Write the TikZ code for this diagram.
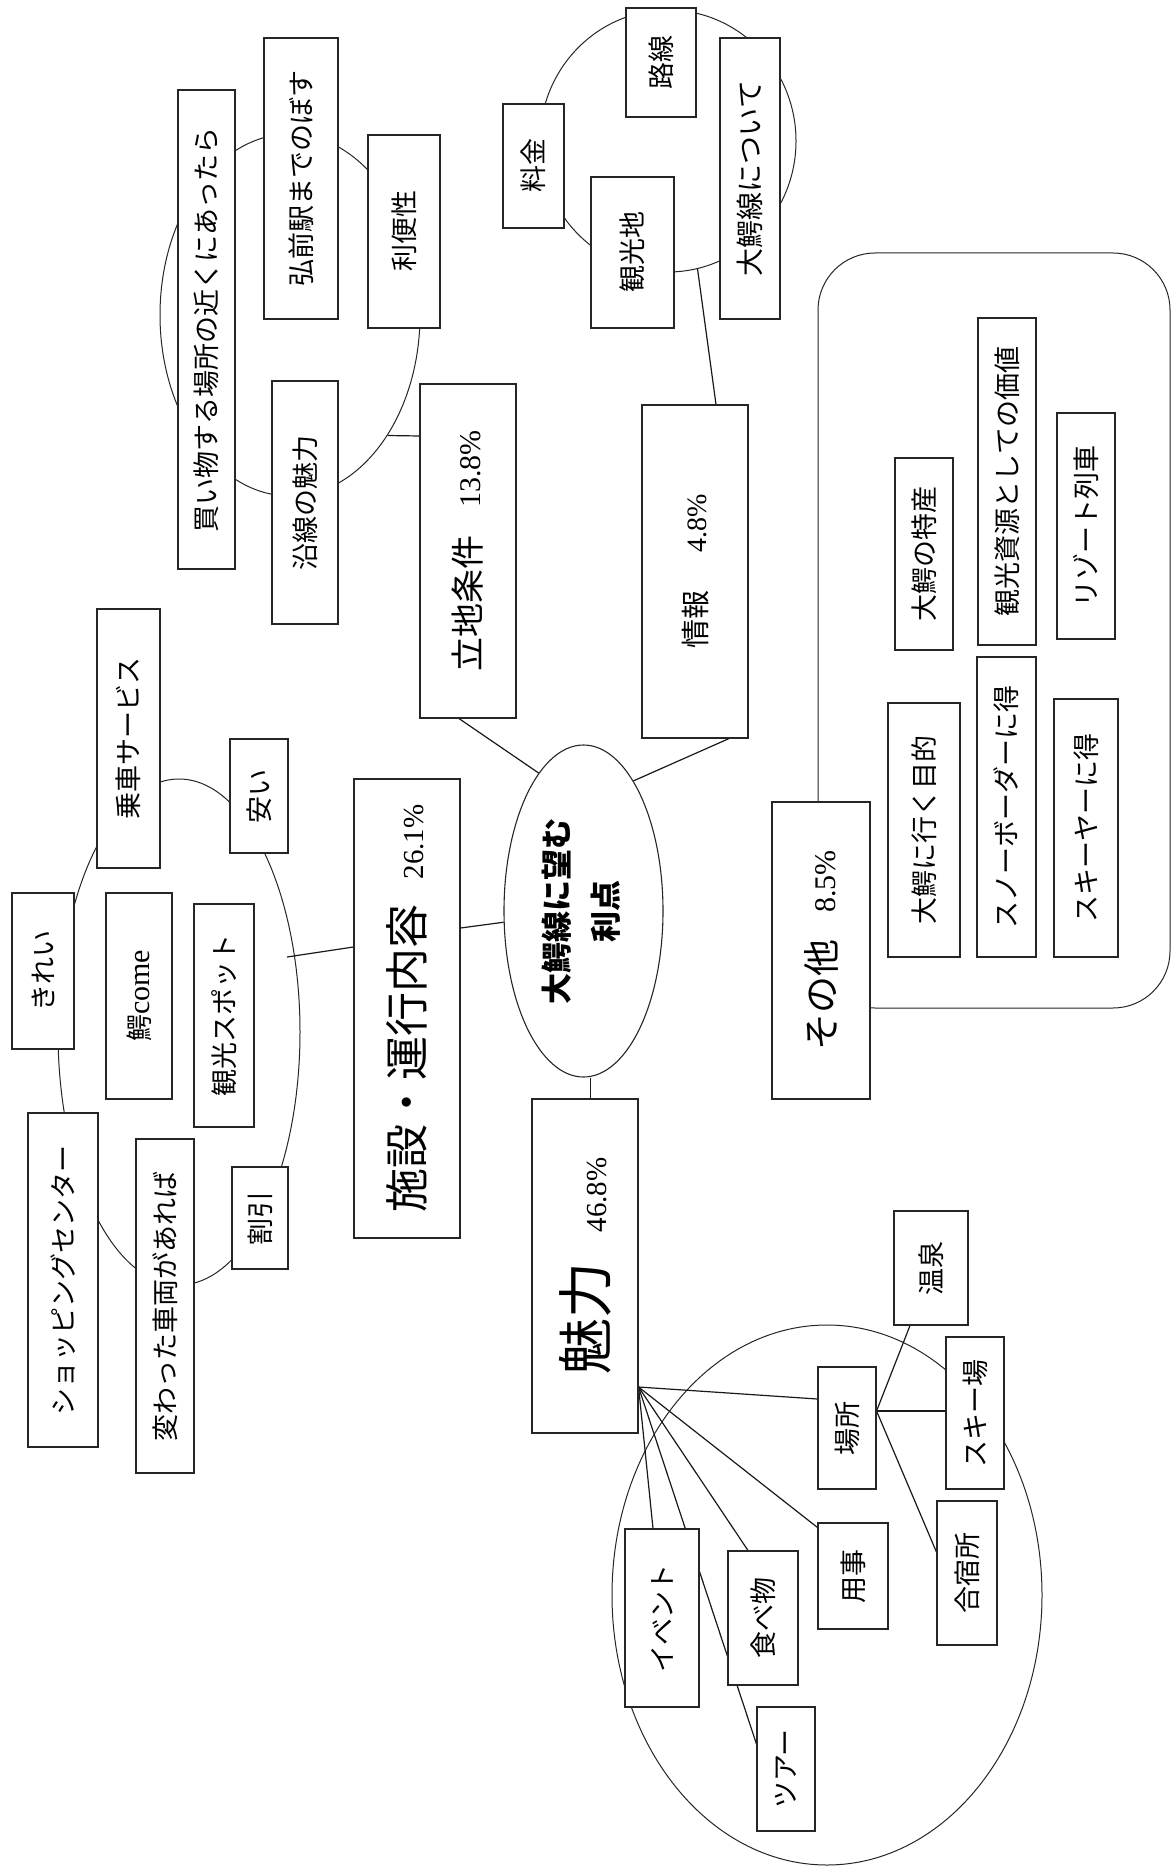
\documentclass[tikz,border=0pt]{standalone}
\usepackage{fontspec}
\usepackage{graphicx}
\setmainfont{Noto Sans CJK JP}
\newfontfamily\lat{Liberation Serif}
\usetikzlibrary{shapes.geometric}
\pgfdeclarelayer{bg}
\pgfdeclarelayer{paper}
\pgfsetlayers{paper,bg,main}
\newcommand\vt[1]{\rotatebox{90}{#1}}
\newcommand\fs[1]{\fontsize{#1}{#1}\selectfont}
\newcommand\mkbox[6]{\node[box, minimum width={(#4-#2)*1pt}, minimum height={(#5-#3)*1pt}] (#1) at ({(#2+#4)/2},{(#3+#5)/2}) {\vt{#6}};}
\begin{document}
\begin{tikzpicture}[x=1pt,y=-1pt,
  box/.style={draw=black!85, line width=1.1pt, fill=white, inner sep=0pt, font=\fs{27}},
  grp/.style={draw=black!85, line width=1pt, ellipse, inner sep=0pt},
  link/.style={draw=black!90, line width=1.2pt}]
\begin{pgfonlayer}{paper}
\fill[white] (0,0) rectangle (1173,1867);
\end{pgfonlayer}
\useasboundingbox (0,0) rectangle (1173,1867);

% --- location group
\mkbox{kaimono}{178}{90}{235}{569}{買い物する場所の近くにあったら}
\mkbox{hirosaki}{264}{38}{338}{319}{弘前駅までのぼす}
\mkbox{ribensei}{368}{135}{440}{328}{利便性}
\mkbox{ensen}{272}{381}{338}{624}{沿線の魅力}
\mkbox{ritchi}{420}{384}{516}{718}{\fs{34}立地条件\hspace{28pt}{\lat\fs{30}13.8\%}}
% --- info group
\mkbox{ryokin}{503}{104}{564}{228}{料金}
\mkbox{rosen}{626}{8}{696}{117}{路線}
\mkbox{kankochi}{591}{177}{674}{328}{観光地}
\mkbox{oowani}{720}{38}{780}{319}{\fs{28}大鰐線について}
\mkbox{joho}{642}{405}{748}{738}{\fs{29}情報\hspace{38pt}{\lat\fs{28}4.8\%}}
% --- other group
\mkbox{sonota}{772}{802}{870}{1099}{\fs{37}その他\hspace{27pt}{\lat\fs{30}8.5\%}}
\mkbox{tokusan}{895}{458}{953}{650}{大鰐の特産}
\mkbox{shigen}{978}{318}{1036}{645}{観光資源としての価値}
\mkbox{resort}{1057}{413}{1115}{639}{リゾート列車}
\mkbox{mokuteki}{888}{703}{960}{957}{大鰐に行く目的}
\mkbox{snow}{977}{657}{1036}{957}{スノーボーダーに得}
\mkbox{skier}{1054}{699}{1118}{957}{スキーヤーに得}
% --- facility group
\mkbox{shisetsu}{354}{779}{460}{1238}{\fs{44}施設・運行内容\hspace{25pt}{\lat\fs{29}26.1\%}}
\mkbox{josha}{97}{609}{160}{868}{乗車サービス}
\mkbox{yasui}{230}{739}{288}{853}{安い}
\mkbox{kirei}{12}{893}{74}{1049}{きれい}
\mkbox{wanicome}{106}{893}{172}{1099}{鰐{\lat\fs{30}come}}
\mkbox{spot}{194}{904}{254}{1127}{観光スポット}
\mkbox{waribiki}{232}{1167}{288}{1269}{割引}
\mkbox{shopping}{28}{1113}{98}{1447}{ショッピングセンター}
\mkbox{kawatta}{136}{1139}{194}{1473}{変わった車両があれば}
% --- charm group
\mkbox{miryoku}{532}{1099}{638}{1433}{\fs{56}魅力\hspace{30pt}{\lat\fs{29}46.8\%}}
\mkbox{basho}{818}{1367}{876}{1489}{場所}
\mkbox{onsen}{894}{1211}{968}{1325}{温泉}
\mkbox{skijo}{946}{1337}{1004}{1489}{スキー場}
\mkbox{gasshuku}{937}{1501}{997}{1645}{合宿所}
\mkbox{yoji}{818}{1523}{888}{1629}{用事}
\mkbox{tabemono}{728}{1551}{798}{1685}{食べ物}
\mkbox{event}{625}{1529}{699}{1707}{イベント}
\mkbox{tour}{757}{1707}{815}{1831}{ツアー}

% --- centre
\node[ellipse, draw=black!85, line width=1.1pt, fill=white, inner sep=0pt,
  minimum width=159pt, minimum height=332pt] (ctr) at (583.5,911)
  {\vt{\fontsize{31}{49}\selectfont\bfseries\begin{tabular}{@{}c@{}}大鰐線に望む\\利点\end{tabular}}};

\coordinate (c3in) at (287,957);
\coordinate (m0) at ([yshift=-121pt]miryoku.east);
\coordinate (b0) at ([yshift=17pt]basho.east);

\begin{pgfonlayer}{bg}
\node[grp, minimum width=260pt, minimum height=362pt] (c1) at (290,315) {};
\node[grp, minimum width=256pt, minimum height=262pt] (c2) at (668,141) {};
\node[grp, minimum width=242pt, minimum height=506pt] (c3) at (179,1032) {};
\node[grp, minimum width=430pt, minimum height=540pt] (c4) at (827,1595) {};
\node[draw=black!85, line width=1pt, rounded corners=57pt, inner sep=0pt,
  minimum width=352pt, minimum height=755pt] (frame) at (994,630.5) {};

\draw[link] ([yshift=115pt]ritchi.west) -- (c1.-51.6);
\draw[link] ([xshift=-9pt]ritchi.south) -- (ctr.108.6);
\draw[link] ([yshift=80.5pt]shisetsu.east) -- (ctr.188.6);
\draw[link] ([xshift=34pt]joho.south) -- (ctr.69.7);
\draw[link] ([xshift=7pt]ctr.south) -- ([xshift=7pt]ctr.south |- miryoku.north);
\draw[link] ([xshift=21pt]joho.north) -- (c2.-77.4);
\draw[link] ([yshift=61.5pt]shisetsu.west) -- (c3in);

\draw[link] (m0) -- ([yshift=29pt]basho.west);
\draw[link] (m0) -- ([yshift=-5pt]yoji.north west);
\draw[link] (m0) -- ([xshift=-15pt]tabemono.north);
\draw[link] (m0) -- ([xshift=-9pt]event.north);
\draw[link] (m0) -- ([yshift=25pt]tour.west);

\draw[link] (b0) -- ([xshift=-21pt]onsen.south);
\draw[link] (b0) -- ([yshift=2pt]skijo.west);
\draw[link] (b0) -- ([yshift=21pt]gasshuku.west);
\end{pgfonlayer}
\end{tikzpicture}
\end{document}
